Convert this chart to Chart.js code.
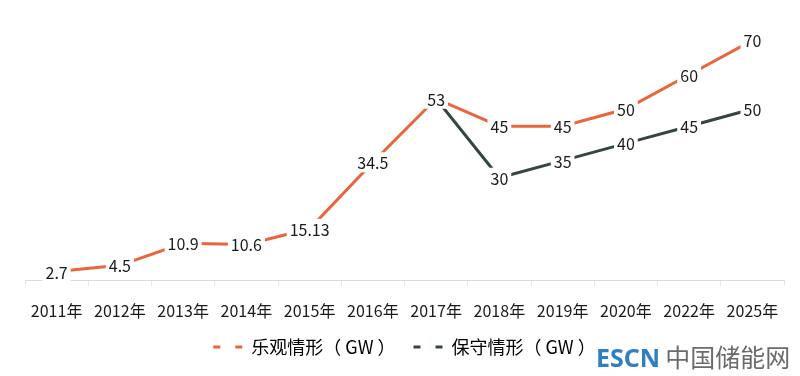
<!DOCTYPE html>
<html>
<head>
<meta charset="utf-8">
<script src="https://cdn.jsdelivr.net/npm/chart.js@4.4.0/dist/chart.umd.min.js"></script>
<style>
  html, body { margin: 0; padding: 0; background: #fff; }
  #wrap { position: relative; width: 800px; height: 376px; }
  #mark { position: absolute; left: 596px; top: 341px; font-family: "Noto Sans CJK SC", sans-serif; font-size: 25px; line-height: 30px; white-space: nowrap; }
  #mark .en { color: #2f7fc4; font-family: "Noto Sans", sans-serif; font-weight: bold; }
  #mark .cn { color: #6b6b6b; margin-left: 5px; }
</style>
</head>
<body>
<div id="wrap">
  <canvas id="chart" width="800" height="376"></canvas>
  <div id="mark"><span class="en">ESCN</span><span class="cn">中国储能网</span></div>
</div>
<script>
// -------------------------------
// Data
// -------------------------------
const years = ["2011年", "2012年", "2013年", "2014年", "2015年", "2016年", "2017年", "2018年", "2019年", "2020年", "2022年", "2025年"];
const optimistic = [2.7, 4.5, 10.9, 10.6, 15.13, 34.5, 53, 45, 45, 50, 60, 70];
const conservative = [null, null, null, null, null, null, 53, 30, 35, 40, 45, 50];
const seriesNames = ["乐观情形（ GW ）", "保守情形（ GW ）"];
const seriesColors = ["#e8653d", "#33473f"];

const FONT = "'Noto Sans CJK SC', 'Noto Sans', sans-serif";

// -------------------------------
// Value labels with white box behind (line breaks around text)
// -------------------------------
const valueLabels = {
  id: "valueLabels",
  afterDatasetsDraw(chart) {
    const ctx = chart.ctx;
    ctx.save();
    ctx.font = "16px " + FONT;
    ctx.textAlign = "center";
    ctx.textBaseline = "middle";
    chart.data.datasets.forEach((ds, di) => {
      const meta = chart.getDatasetMeta(di);
      meta.data.forEach((pt, i) => {
        const v = ds.data[i];
        if (v === null) return;
        // 2017 point is shared, only label it once
        if (di === 1 && i === 6) return;
        const txt = String(v);
        const w = ctx.measureText(txt).width + 6;
        ctx.fillStyle = "#ffffff";
        ctx.fillRect(pt.x - w / 2, pt.y - 10, w, 20);
        ctx.fillStyle = "#1a1a1a";
        ctx.fillText(txt, pt.x, pt.y + 1);
      });
    });
    ctx.restore();
  }
};

const ctx = document.getElementById("chart").getContext("2d");
new Chart(ctx, {
  type: "line",
  data: {
    labels: years,
    datasets: [
      {
        label: seriesNames[0],
        data: optimistic,
        borderColor: seriesColors[0],
        backgroundColor: seriesColors[0],
        borderWidth: 3,
        pointRadius: 0,
        tension: 0
      },
      {
        label: seriesNames[1],
        data: conservative,
        borderColor: seriesColors[1],
        backgroundColor: seriesColors[1],
        borderWidth: 3,
        pointRadius: 0,
        tension: 0
      }
    ]
  },
  options: {
    responsive: false,
    animation: false,
    layout: { padding: { left: 25, right: 16, top: 6, bottom: 10 } },
    scales: {
      x: {
        offset: true,
        grid: {
          offset: true,
          drawOnChartArea: false,
          drawTicks: true,
          tickLength: 5,
          color: "#e6e6e6"
        },
        border: { display: true, color: "#dcdcdc", width: 1 },
        ticks: {
          color: "#1a1a1a",
          font: { family: FONT, size: 16 },
          padding: 16,
          maxRotation: 0,
          autoSkip: false
        },
        // let the legend sit closer under the tick labels
        afterFit(scale) {
          scale.height -= 17;
        }
      },
      y: {
        display: false,
        min: 0,
        max: 80
      }
    },
    plugins: {
      tooltip: { enabled: false },
      legend: {
        position: "bottom",
        labels: {
          color: "#1a1a1a",
          font: { family: FONT, size: 18 },
          usePointStyle: true,
          pointStyleWidth: 29,
          boxHeight: 10,
          padding: 18,
          generateLabels(chart) {
            return chart.data.datasets.map((ds, i) => ({
              text: ds.label,
              fillStyle: ds.borderColor,
              strokeStyle: ds.borderColor,
              lineWidth: 3,
              lineDash: [7, 15],
              pointStyle: "line",
              datasetIndex: i
            }));
          }
        }
      }
    }
  },
  plugins: [valueLabels]
});
</script>
</body>
</html>
